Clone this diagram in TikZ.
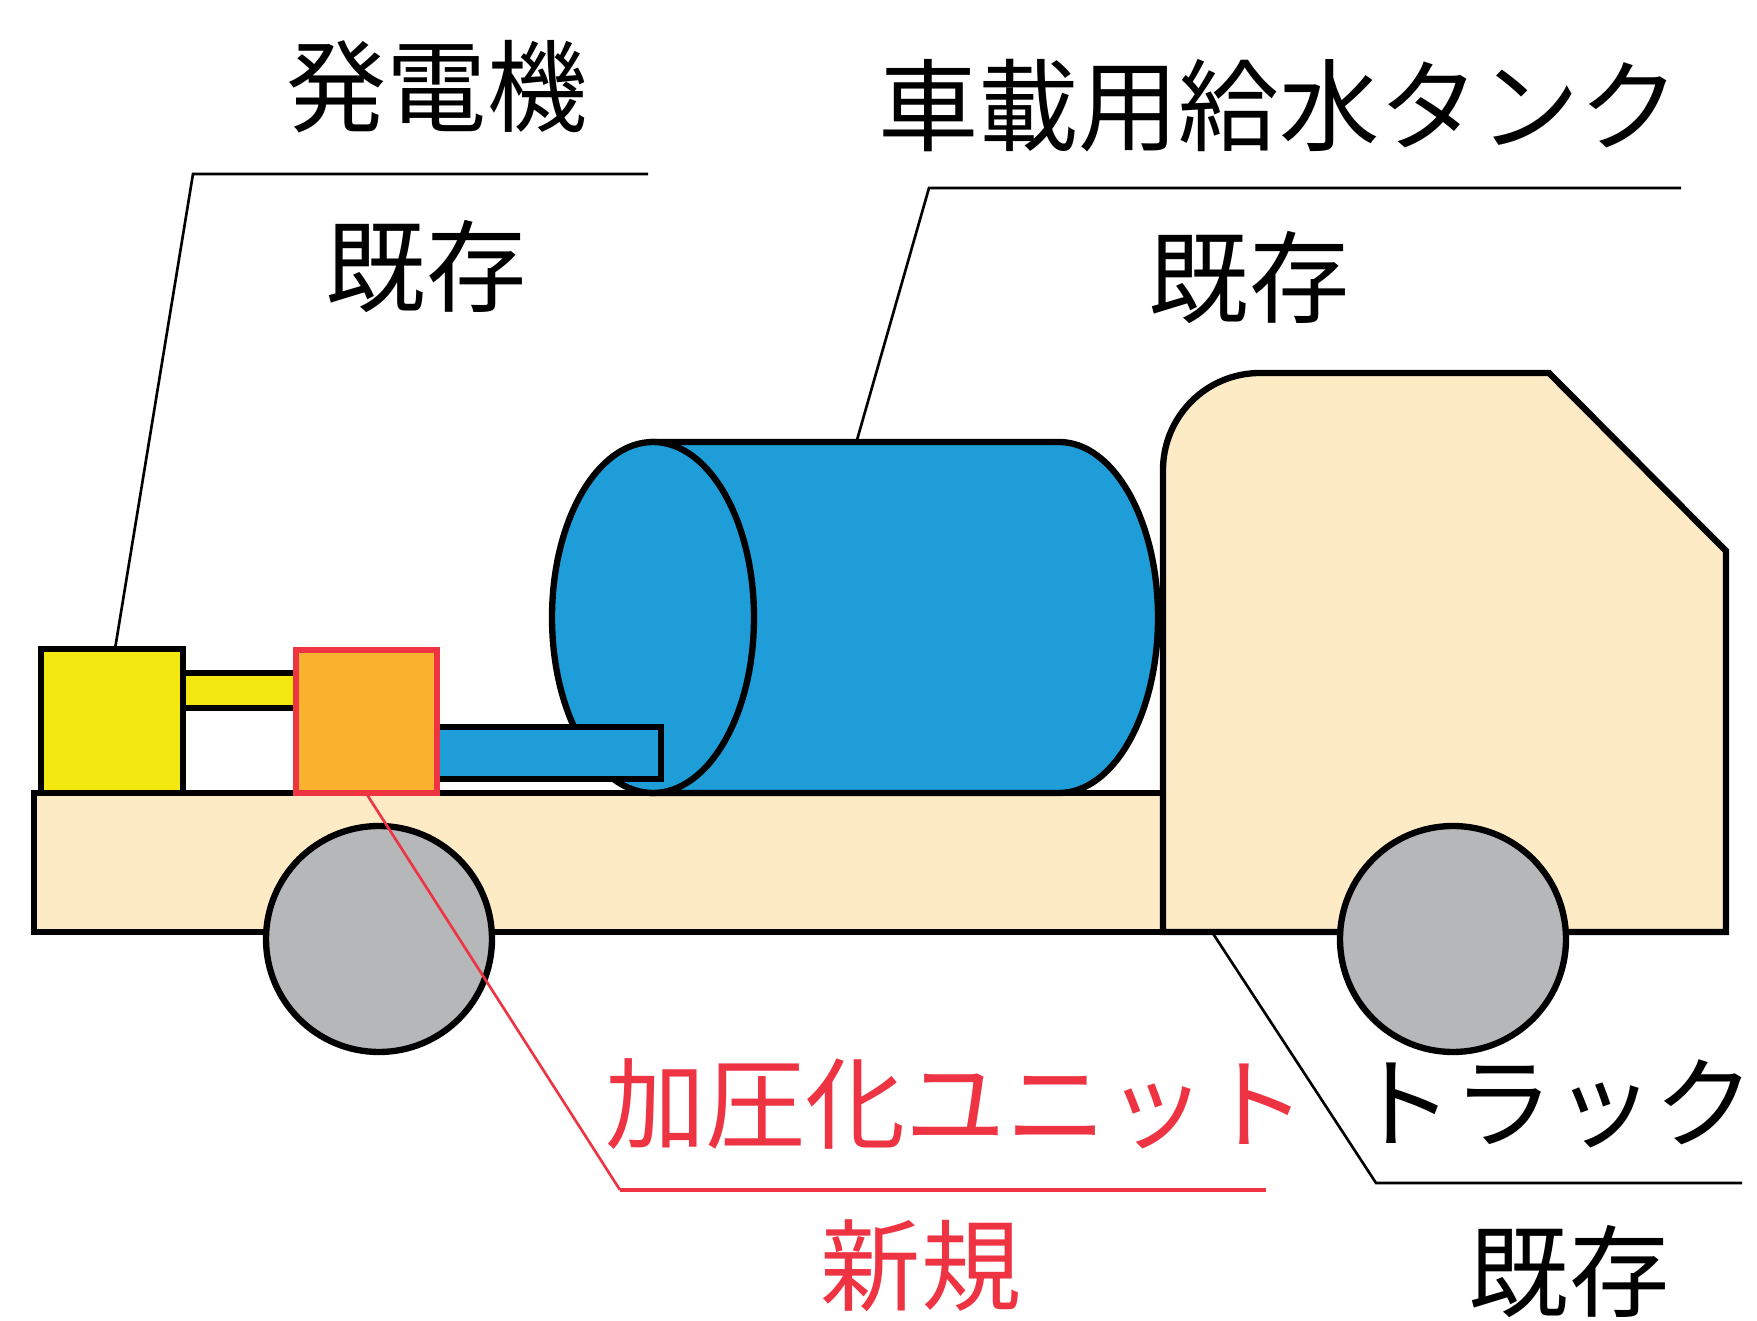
\documentclass[tikz,border=0pt]{standalone}
\usepackage{fontspec}
\newfontfamily\jpfont{Noto Sans CJK JP}
\usetikzlibrary{positioning}
\definecolor{tankBlue}{HTML}{1E9DD8}
\definecolor{genYellow}{HTML}{F2E80F}
\definecolor{unitOrange}{HTML}{FBB22F}
\definecolor{newRed}{HTML}{EE3342}
\definecolor{bodyBeige}{HTML}{FDEBC6}
\definecolor{tyreGrey}{HTML}{B6B7B9}
\tikzset{
  outline/.style   = {draw=black, line width=1.8pt},
  redline/.style   = {draw=newRed, line width=1.8pt},
  leader/.style    = {black, line width=0.75pt},
  newleader/.style = {newRed, line width=0.75pt},
  lbl/.style       = {font=\jpfont\fontsize{28.5pt}{30pt}\selectfont, inner sep=0pt},
  newlbl/.style    = {lbl, newRed},
}

\begin{document}
\begin{tikzpicture}[x=0.01cm, y=0.01cm]
  \useasboundingbox (0,0) rectangle (1757,1321);

  % truck body
  \draw[outline, fill=bodyBeige] (34,389) rectangle (1165,528);
  \draw[outline, fill=bodyBeige] (1163,389) -- (1163,851)
    arc[start angle=180, end angle=90, radius=97] -- (1549,948)
    -- (1726,770) -- (1726,389) -- cycle;

  % water tank
  \draw[outline, fill=tankBlue] (653,879) -- (1059,879)
    arc[start angle=90, end angle=-90, x radius=99, y radius=175.5]
    -- (653,528) -- cycle;
  \draw[outline, fill=tankBlue] (653,703.5) ellipse[x radius=101, y radius=175.5];

  % generator, shaft, pipe and pressurising unit
  \draw[outline, fill=genYellow] (183,613) rectangle (296,648);
  \draw[outline, fill=genYellow] (41,528) rectangle (183,672);
  \draw[outline, fill=tankBlue] (420,542) rectangle (661,594);
  \draw[redline, fill=unitOrange] (296,528) rectangle (437,671);

  % wheels
  \draw[outline, fill=tyreGrey] (379,382) circle[radius=113];
  \draw[outline, fill=tyreGrey] (1453,382) circle[radius=113];

  % leader points
  \coordinate (genTip)    at (115,672);
  \coordinate (genKnee)   at (193,1147);
  \coordinate (genEnd)    at (648,1147);
  \coordinate (tankTip)   at (857,881);
  \coordinate (tankKnee)  at (929,1133);
  \coordinate (tankEnd)   at (1681,1133);
  \coordinate (truckTip)  at (1212,389);
  \coordinate (truckKnee) at (1376,138);
  \coordinate (truckEnd)  at (1742,138);
  \coordinate (unitTip)   at (366,528);
  \coordinate (unitKnee)  at (620,131);
  \coordinate (unitEnd)   at (1266,131);

  \draw[leader] (genTip) -- (genKnee) -- (genEnd);
  \draw[leader] (tankTip) -- (tankKnee) -- (tankEnd);
  \draw[leader] (truckTip) -- (truckKnee) -- (truckEnd);
  \draw[newleader] (unitTip) -- (unitKnee);
  \draw[newRed, line width=1.1pt] (unitKnee) -- (unitEnd);

  % labels
  \node[lbl] (genName)    at (437,1234) {発電機};
  \node[lbl] (genState)   at (426,1054) {既存};
  \node[lbl] (tankName)   at (1279,1215) {車載用給水タンク};
  \node[lbl] (tankState)  at (1249,1043) {既存};
  \node[lbl] (truckName)  at (1554,217) {トラック};
  \node[lbl] (truckState) at (1569,49) {既存};
  \node[newlbl] (unitName)  at (956,217) {加圧化ユニット};
  \node[newlbl] (unitState) at (921,55) {新規};
\end{tikzpicture}
\end{document}
